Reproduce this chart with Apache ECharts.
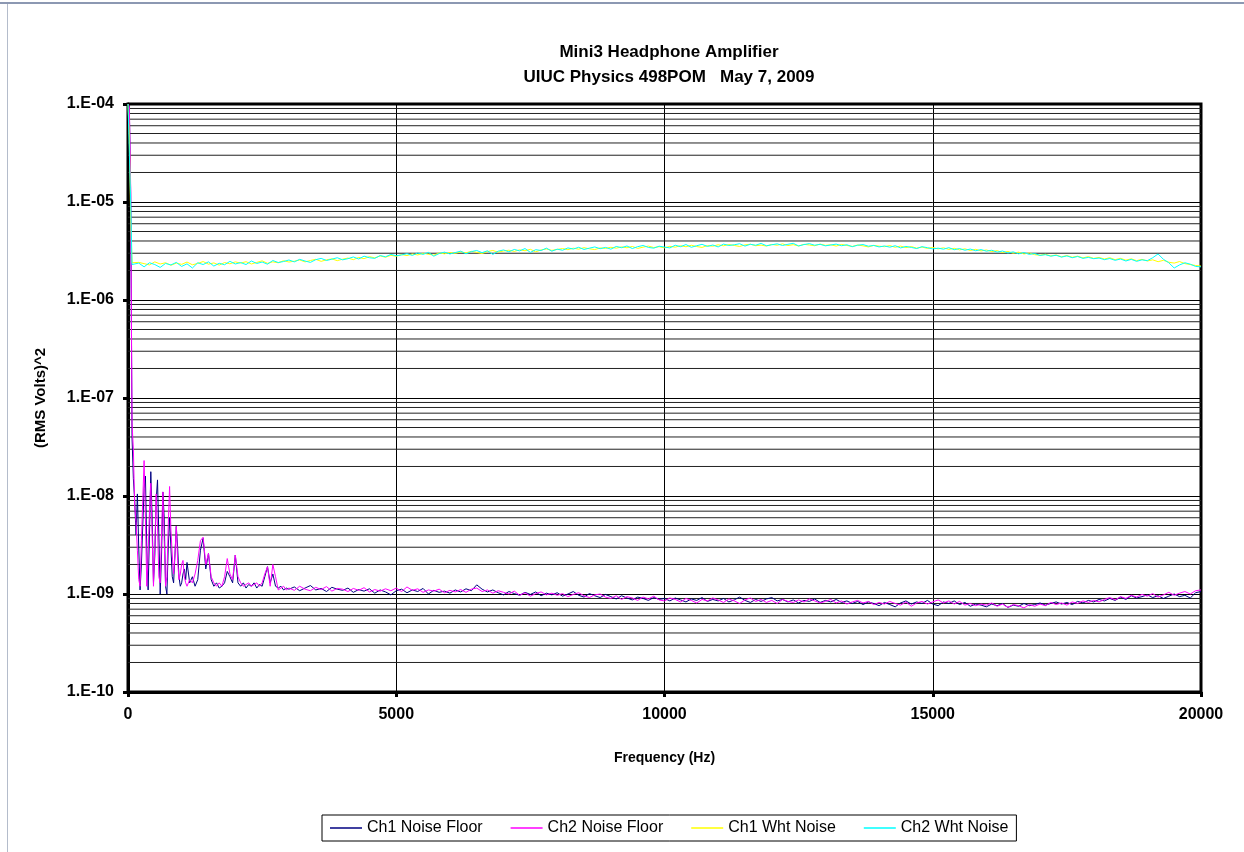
<!DOCTYPE html>
<html>
<head>
<meta charset="utf-8">
<title>Mini3 Headphone Amplifier</title>
<script src="https://cdn.jsdelivr.net/npm/echarts@6/dist/echarts.min.js"></script>
<style>
  html, body { margin: 0; padding: 0; background: #fff; }
  #chart { width: 1244px; height: 852px; }
</style>
</head>
<body>
<div id="chart"></div>
<script>
// frequency grids (Hz): fine near DC, coarser above
function range(start, stop, step) {
  const out = [];
  for (let v = start; v <= stop; v += step) out.push(v);
  return out;
}
const floorFreq = range(0, 1100, 25).concat(range(1150, 2950, 50), range(3000, 20000, 100));
const whtFreq = [0, 25, 50, 75].concat(range(100, 20000, 100));

// noise floor values in units of 1e-9 V^2
const floorUnit = 1e-9;
const ch1FloorLow = [100000, 90000, 12000, 40, 15, 9, 4, 10.5, 3, 1.1, 2, 5, 12, 16, 3, 1.1, 4, 17.7, 6, 1.3,
  2.5, 9, 14.6, 4, 1.0, 2.5, 11, 6, 1.2, 1.0, 3, 6, 3, 1.5, 1.3, 2.5, 4.9, 3, 1.5, 1.2, 1.3, 1.6, 1.8, 1.4, 2.1];
const ch2FloorLow = [100000, 95000, 14000, 55, 30, 7.8, 5.5, 2.8, 1.4, 1.2, 3.5, 9, 23, 6, 1.2, 2.5, 7, 13.5, 4, 1.2,
  3, 10.5, 5, 1.5, 1.3, 4, 11, 3.5, 1.2, 1.5, 5, 12.5, 4.5, 2.5, 1.6, 2.5, 4.9, 2.2, 1.4, 1.6, 2, 2.2, 1.5, 1.3, 1.2];
const ch1FloorMid = [1.3, 1.5, 1.2, 1.4, 2.8, 3.7, 1.8, 2.6, 1.4, 1.2, 1.3, 1.15, 1.2, 1.3, 1.7, 1.5, 1.3, 2.5, 1.3,
  1.2, 1.3, 1.15, 1.25, 1.2, 1.3, 1.15, 1.25, 1.2, 1.5, 1.9, 1.3, 1.6, 1.2, 1.15, 1.2, 1.1, 1.15];
const ch2FloorMid = [1.4, 1.3, 1.6, 2.2, 3.5, 3.8, 2.0, 2.6, 1.5, 1.3, 1.2, 1.3, 1.2, 1.5, 2.3, 1.6, 1.4, 2.5, 1.5,
  1.3, 1.2, 1.25, 1.3, 1.2, 1.25, 1.3, 1.2, 1.3, 1.6, 1.9, 1.2, 2.0, 1.5, 1.1, 1.15, 1.2, 1.1];
const ch1FloorHigh = [
  1.12, 1.18, 1.08, 1.15, 1.22, 1.10, 1.14, 1.06, 1.17, 1.12,
  1.09, 1.15, 1.04, 1.11, 1.07, 1.13, 1.02, 1.10, 1.05, 0.98,
  1.08, 1.12, 1.03, 1.10, 1.06, 1.14, 1.00, 1.09, 1.04, 1.07,
  1.02, 1.10, 1.05, 1.13, 1.08, 1.24, 1.12, 1.05, 1.10, 1.03,
  0.98, 1.06, 1.01, 0.97, 1.04, 0.99, 1.05, 0.96, 1.02, 0.98,
  1.03, 0.95, 1.00, 1.06, 0.97, 0.93, 1.01, 0.96, 0.92, 0.99,
  0.94, 0.89, 0.96, 0.91, 0.87, 0.93, 0.90, 0.86, 0.92, 0.88,
  0.90, 0.85, 0.91, 0.87, 0.83, 0.89, 0.86, 0.92, 0.84, 0.88,
  0.85, 0.90, 0.83, 0.87, 0.93, 0.86, 0.82, 0.88, 0.84, 0.89,
  0.92, 0.85, 0.88, 0.83, 0.87, 0.81, 0.86, 0.84, 0.89, 0.82,
  0.86, 0.83, 0.88, 0.82, 0.85, 0.80, 0.84, 0.78, 0.83, 0.80,
  0.76, 0.82, 0.78, 0.74, 0.81, 0.85, 0.79, 0.83, 0.80, 0.86,
  0.79, 0.76, 0.83, 0.80, 0.85, 0.78, 0.82, 0.75, 0.79, 0.77,
  0.74, 0.79, 0.76, 0.80, 0.73, 0.77, 0.75, 0.80, 0.76, 0.78,
  0.81, 0.77, 0.80, 0.83, 0.79, 0.82, 0.78, 0.84, 0.81, 0.86,
  0.83, 0.88, 0.85, 0.90, 0.86, 0.93, 0.88, 0.96, 0.91, 0.94,
  0.98, 0.92, 0.96, 0.90, 0.95, 1.00, 0.94, 0.97, 0.91, 1.03,
  1.06];
const ch2FloorHigh = [
  1.15, 1.09, 1.20, 1.12, 1.08, 1.17, 1.11, 1.19, 1.07, 1.14,
  1.12, 1.06, 1.14, 1.09, 1.16, 1.05, 1.11, 1.07, 1.13, 1.08,
  1.15, 1.06, 1.18, 1.09, 1.13, 1.04, 1.10, 1.07, 1.12, 1.03,
  1.09, 1.05, 1.11, 1.04, 1.12, 1.15, 1.06, 1.10, 1.02, 1.08,
  1.04, 1.00, 1.07, 0.97, 1.03, 0.95, 1.01, 1.05, 0.98, 1.02,
  0.97, 1.01, 0.94, 0.99, 1.03, 0.96, 0.92, 0.98, 1.00, 0.93,
  0.90, 0.96, 0.88, 0.94, 0.91, 0.86, 0.93, 0.89, 0.95, 0.87,
  0.85, 0.91, 0.88, 0.83, 0.90, 0.86, 0.81, 0.88, 0.85, 0.91,
  0.87, 0.82, 0.89, 0.85, 0.80, 0.87, 0.91, 0.84, 0.88, 0.82,
  0.86, 0.80, 0.88, 0.84, 0.82, 0.87, 0.83, 0.89, 0.85, 0.81,
  0.84, 0.88, 0.81, 0.85, 0.79, 0.83, 0.86, 0.81, 0.84, 0.78,
  0.82, 0.79, 0.84, 0.80, 0.77, 0.83, 0.75, 0.81, 0.84, 0.79,
  0.83, 0.87, 0.81, 0.85, 0.79, 0.84, 0.77, 0.80, 0.76, 0.79,
  0.77, 0.81, 0.75, 0.79, 0.73, 0.78, 0.76, 0.72, 0.78, 0.75,
  0.79, 0.76, 0.82, 0.78, 0.81, 0.77, 0.83, 0.80, 0.85, 0.82,
  0.86, 0.83, 0.88, 0.92, 0.87, 0.94, 0.90, 0.97, 0.93, 0.99,
  0.95, 1.01, 0.93, 0.98, 1.04, 0.97, 1.02, 1.06, 1.00, 1.08,
  1.10];

// white noise values in units of 1e-6 V^2
const whtUnit = 1e-6;
const ch1Wht = [100, 46, 6.6, 2.4,
  2.30, 2.42, 2.35, 2.28, 2.45, 2.33, 2.40, 2.26, 2.38, 2.31,
  2.44, 2.29, 2.36, 2.47, 2.32, 2.39, 2.27, 2.41, 2.34, 2.45,
  2.38, 2.46, 2.33, 2.42, 2.51, 2.37, 2.45, 2.40, 2.52, 2.44,
  2.49, 2.56, 2.45, 2.53, 2.60, 2.48, 2.57, 2.63, 2.52, 2.61,
  2.68, 2.58, 2.72, 2.64, 2.77, 2.69, 2.82, 2.73, 2.86, 2.79,
  2.91, 2.84, 2.95, 2.88, 3.00, 2.93, 2.87, 3.02, 2.96, 3.05,
  2.99, 3.10, 3.03, 3.14, 3.06, 2.98, 3.12, 3.20, 3.08, 3.16,
  3.22, 3.13, 3.25, 3.18, 3.29, 3.10, 3.24, 3.32, 3.21, 3.28,
  3.35, 3.26, 3.38, 3.30, 3.42, 3.33, 3.27, 3.40, 3.36, 3.45,
  3.38, 3.48, 3.41, 3.52, 3.36, 3.46, 3.55, 3.43, 3.50, 3.40,
  3.53, 3.46, 3.58, 3.49, 3.62, 3.51, 3.44, 3.59, 3.54, 3.66,
  3.57, 3.68, 3.60, 3.52, 3.65, 3.71, 3.58, 3.63, 3.55, 3.69,
  3.62, 3.74, 3.59, 3.67, 3.56, 3.70, 3.64, 3.58, 3.72, 3.61,
  3.66, 3.55, 3.69, 3.60, 3.52, 3.64, 3.57, 3.48, 3.61, 3.54,
  3.50, 3.59, 3.45, 3.55, 3.42, 3.51, 3.38, 3.47, 3.36, 3.44,
  3.32, 3.41, 3.28, 3.37, 3.25, 3.33, 3.20, 3.29, 3.17, 3.24,
  3.12, 3.19, 3.05, 3.13, 3.00, 3.08, 2.95, 3.02, 2.90, 2.86,
  2.93, 2.82, 2.88, 2.76, 2.84, 2.73, 2.80, 2.69, 2.77, 2.66,
  2.72, 2.62, 2.70, 2.58, 2.66, 2.55, 2.63, 2.52, 2.60, 2.50,
  2.57, 2.46, 2.54, 2.43, 2.38, 2.47, 2.35, 2.30, 2.25, 2.22];
const ch2Wht = [100, 100, 10, 2.3,
  2.25, 2.38, 2.18, 2.40, 2.30, 2.15, 2.36, 2.28, 2.42, 2.20,
  2.34, 2.12, 2.40, 2.30, 2.45, 2.22, 2.37, 2.29, 2.48, 2.33,
  2.41, 2.30, 2.50, 2.36, 2.44, 2.32, 2.53, 2.41, 2.47, 2.56,
  2.45, 2.60, 2.50, 2.42, 2.58, 2.66, 2.53, 2.61, 2.70, 2.57,
  2.64, 2.75, 2.62, 2.80, 2.70, 2.66, 2.84, 2.76, 2.92, 2.83,
  2.88, 2.97, 2.85, 3.02, 2.92, 3.06, 2.80, 2.98, 3.08, 2.95,
  3.05, 3.15, 2.96, 3.12, 3.20, 3.04, 3.18, 2.92, 3.15, 3.24,
  3.10, 3.28, 3.17, 3.35, 3.06, 3.26, 3.20, 3.38, 3.15, 3.30,
  3.22, 3.40, 3.31, 3.45, 3.28, 3.38, 3.48, 3.34, 3.44, 3.30,
  3.52, 3.42, 3.56, 3.35, 3.50, 3.60, 3.44, 3.38, 3.54, 3.47,
  3.40, 3.62, 3.50, 3.68, 3.45, 3.58, 3.70, 3.52, 3.64, 3.48,
  3.72, 3.60, 3.66, 3.75, 3.55, 3.70, 3.62, 3.78, 3.58, 3.66,
  3.74, 3.60, 3.70, 3.79, 3.56, 3.68, 3.76, 3.62, 3.70, 3.57,
  3.64, 3.72, 3.58, 3.66, 3.50, 3.62, 3.68, 3.54, 3.60, 3.48,
  3.56, 3.46, 3.58, 3.40, 3.52, 3.44, 3.35, 3.50, 3.42, 3.32,
  3.38, 3.30, 3.42, 3.26, 3.35, 3.22, 3.31, 3.18, 3.27, 3.15,
  3.22, 3.08, 3.16, 3.02, 3.10, 2.96, 3.05, 2.92, 2.98, 2.85,
  2.90, 2.80, 2.86, 2.74, 2.82, 2.70, 2.78, 2.66, 2.72, 2.64,
  2.68, 2.58, 2.65, 2.54, 2.62, 2.50, 2.60, 2.48, 2.57, 2.52,
  2.70, 2.95, 2.60, 2.40, 2.12, 2.28, 2.40, 2.32, 2.20, 2.18];

const seriesNames = ["Ch1 Noise Floor", "Ch2 Noise Floor", "Ch1 Wht Noise", "Ch2 Wht Noise"];
const seriesColors = ["#000080", "#ff00ff", "#ffff00", "#00ffff"];
const xTicks = [0, 5000, 10000, 15000, 20000];
const yMin = 1e-10, yMax = 1e-4;
const xMin = 0, xMax = 20000;

const ch1FloorAll = ch1FloorLow.concat(ch1FloorMid, ch1FloorHigh);
const ch2FloorAll = ch2FloorLow.concat(ch2FloorMid, ch2FloorHigh);
const pairs = (freqs, vals, unit) => freqs.map((f, i) => [f, vals[i] * unit]);

// minor log gridlines at 2..9 of each decade
const minorValues = [];
for (let e = -10; e < -4; e++) {
  for (let m = 2; m <= 9; m++) minorValues.push([xMin, m * Math.pow(10, e)]);
}

const FONT = "'Liberation Sans', Arial, sans-serif";
const chart = echarts.init(document.getElementById("chart"), null, { renderer: "canvas" });

const lineSeries = [
  pairs(floorFreq, ch1FloorAll, floorUnit),
  pairs(floorFreq, ch2FloorAll, floorUnit),
  pairs(whtFreq, ch1Wht, whtUnit),
  pairs(whtFreq, ch2Wht, whtUnit)
].map((data, i) => ({
  name: seriesNames[i],
  type: "line",
  data: data,
  symbol: "none",
  showSymbol: false,
  z: 3,
  clip: true,
  lineStyle: { color: seriesColors[i], width: 1 },
  itemStyle: { color: seriesColors[i] }
}));

chart.setOption({
  animation: false,
  backgroundColor: "#ffffff",
  textStyle: { fontFamily: FONT },
  title: {
    text: "Mini3 Headphone Amplifier\nUIUC Physics 498POM   May 7, 2009",
    left: 664,
    top: 35,
    textAlign: "center",
    textStyle: { fontFamily: FONT, fontSize: 17, fontWeight: "bold", color: "#000", lineHeight: 25 }
  },
  legend: {
    data: seriesNames,
    left: 322,
    top: 815,
    icon: "rect",
    itemWidth: 32,
    itemHeight: 1.5,
    itemGap: 28,
    padding: [5, 8, 5, 8],
    borderColor: "#000",
    borderWidth: 1,
    borderRadius: 0,
    textStyle: { fontFamily: FONT, fontSize: 16, color: "#000" }
  },
  grid: {
    left: 128, right: 43, top: 104, bottom: 160,
    show: true,
    borderColor: "#000",
    borderWidth: 3,
    backgroundColor: "#fff"
  },
  xAxis: {
    type: "value",
    min: xMin,
    max: xMax,
    interval: 5000,
    name: "Frequency (Hz)",
    nameLocation: "middle",
    nameGap: 59,
    nameTextStyle: { fontFamily: FONT, fontSize: 14, fontWeight: "bold", color: "#000" },
    axisLine: { show: true, lineStyle: { color: "#000", width: 3 } },
    axisTick: { show: true, inside: false, length: 5, lineStyle: { color: "#000", width: 3 } },
    axisLabel: {
      margin: 15, fontSize: 16, fontWeight: "bold", color: "#000", fontFamily: FONT,
      formatter: (v) => (xTicks.indexOf(v) >= 0 ? String(v) : "")
    },
    splitLine: { show: true, lineStyle: { color: "#000", width: 1 } }
  },
  yAxis: {
    type: "log",
    logBase: 10,
    min: yMin,
    max: yMax,
    splitNumber: 6,
    name: "(RMS Volts)^2",
    nameLocation: "middle",
    nameRotate: 90,
    nameGap: 80,
    nameTextStyle: { fontFamily: FONT, fontSize: 15, fontWeight: "bold", color: "#000" },
    axisLine: { show: true, lineStyle: { color: "#000", width: 3 } },
    axisTick: { show: true, inside: false, length: 5, lineStyle: { color: "#000", width: 3 } },
    axisLabel: {
      margin: 14, fontSize: 16, fontWeight: "bold", color: "#000", fontFamily: FONT,
      formatter: (v) => {
        const e = Math.round(Math.log10(v));
        return "1.E-" + String(-e).padStart(2, "0");
      }
    },
    splitLine: { show: true, lineStyle: { color: "#000", width: 1 } }
  },
  graphic: [
    { type: "line", shape: { x1: 0, y1: 3, x2: 1244, y2: 3 }, style: { stroke: "#8c98b2", lineWidth: 2 } },
    { type: "line", shape: { x1: 7.5, y1: 4, x2: 7.5, y2: 852 }, style: { stroke: "#b4bccb", lineWidth: 1 } }
  ],
  series: [
    {
      name: "minor-grid",
      type: "custom",
      silent: true,
      z: 1,
      data: minorValues,
      renderItem: (params, api) => {
        const v = api.value(1);
        const p1 = api.coord([xMin, v]);
        const p2 = api.coord([xMax, v]);
        return {
          type: "line",
          shape: { x1: p1[0], y1: p1[1], x2: p2[0], y2: p2[1] },
          style: { stroke: "#222", lineWidth: 1 }
        };
      }
    }
  ].concat(lineSeries)
});

window.addEventListener("resize", () => chart.resize());
</script>
</body>
</html>
